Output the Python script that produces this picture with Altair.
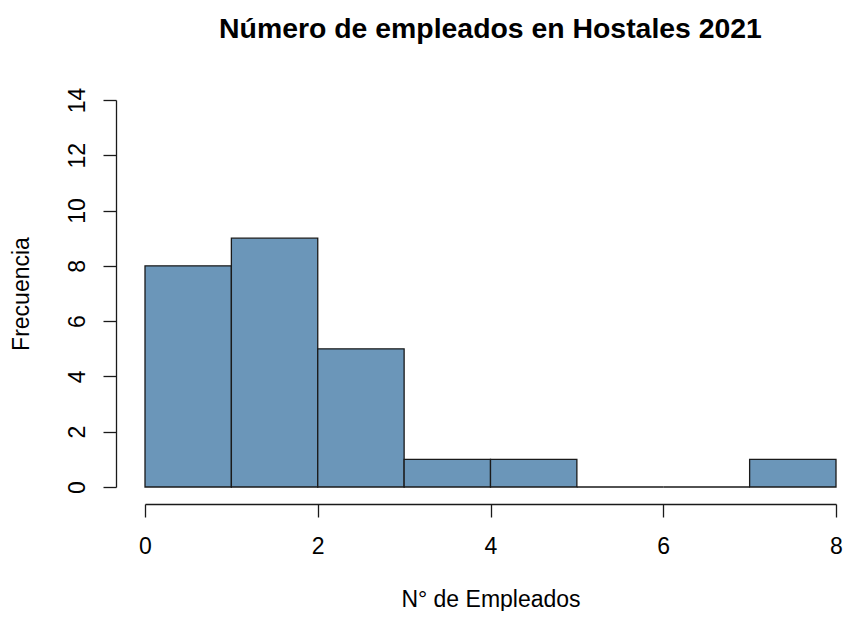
import altair as alt
import pandas as pd

bin_start = [0, 1, 2, 3, 4, 5, 6, 7]
bin_end = [1, 2, 3, 4, 5, 6, 7, 8]
counts = [8, 9, 5, 1, 1, 0, 0, 1]

df = pd.DataFrame({"start": bin_start, "end": bin_end, "count": counts})

FONT = "Liberation Sans"
LINE = "#1a1a1a"

chart = (
    alt.Chart(df)
    .mark_rect(fill="#6b96b9", stroke=LINE, strokeWidth=1.3)
    .encode(
        x=alt.X(
            "start:Q",
            scale=alt.Scale(domain=[0, 8], nice=False, zero=False, padding=0),
            axis=alt.Axis(
                title="N° de Empleados",
                values=[0, 2, 4, 6, 8],
                format="d",
                offset=17,
                tickSize=13,
                tickColor=LINE,
                tickWidth=1.3,
                domainColor=LINE,
                domainWidth=1.3,
                grid=False,
                labelFont=FONT,
                labelFontSize=23,
                labelColor="#000000",
                labelPadding=18,
                labelFlush=False,
                titleFont=FONT,
                titleFontSize=23,
                titleFontWeight="normal",
                titleColor="#000000",
                titleY=102,
                titleBaseline="alphabetic",
            ),
        ),
        x2="end:Q",
        y=alt.Y(
            "count:Q",
            scale=alt.Scale(domain=[0, 14], nice=False, padding=0),
            axis=alt.Axis(
                title="Frecuencia",
                values=[0, 2, 4, 6, 8, 10, 12, 14],
                offset=29,
                tickSize=13,
                tickColor=LINE,
                tickWidth=1.3,
                domainColor=LINE,
                domainWidth=1.3,
                grid=False,
                labelFont=FONT,
                labelFontSize=23,
                labelColor="#000000",
                labelAngle=270,
                labelAlign="center",
                labelBaseline="alphabetic",
                labelPadding=19,
                labelFlush=False,
                titleFont=FONT,
                titleFontSize=23,
                titleFontWeight="normal",
                titleColor="#000000",
                titleX=-88,
                titleBaseline="alphabetic",
            ),
        ),
        y2=alt.datum(0),
    )
    .properties(
        width=691,
        height=387,
        autosize=alt.AutoSizeParams(type="none"),
        padding={"left": 137, "top": 92, "right": 7, "bottom": 124},
        title=alt.TitleParams(
            "Número de empleados en Hostales 2021",
            font=FONT,
            fontSize=28.4,
            fontWeight="bold",
            color="#000000",
            anchor="middle",
            frame="group",
            offset=43,
        ),
    )
    .configure(background="white")
    .configure_view(stroke=None)
)

chart.save("out.html", embed_options={"renderer": "svg", "actions": False})
